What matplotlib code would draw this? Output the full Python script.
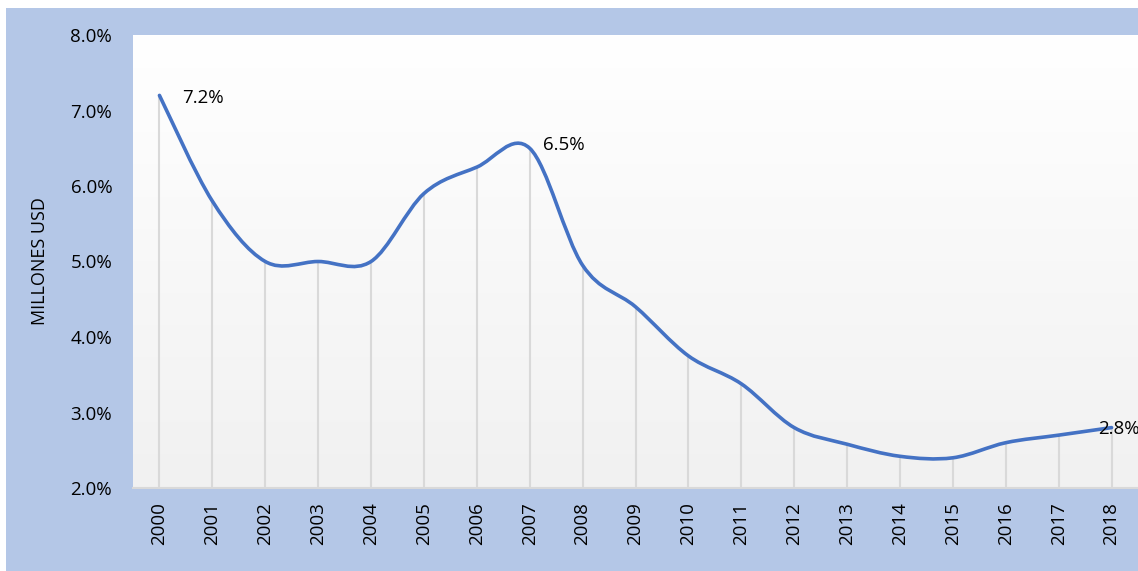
import numpy as np
import matplotlib
matplotlib.use("Agg")
from matplotlib import pyplot as plt
from matplotlib.path import Path
from matplotlib.patches import PathPatch, Rectangle
from matplotlib.ticker import FuncFormatter

years = ['2000', '2001', '2002', '2003', '2004', '2005', '2006', '2007', '2008', '2009',
         '2010', '2011', '2012', '2013', '2014', '2015', '2016', '2017', '2018']
values = [7.2, 5.8, 5.0, 5.0, 5.0, 5.9, 6.25, 6.5, 4.95, 4.4,
          3.75, 3.38, 2.8, 2.58, 2.42, 2.4, 2.6, 2.7, 2.8]
labels = {0: '7.2%', 7: '6.5%', 18: '2.8%'}

plt.rcParams['font.family'] = ['Open Sans', 'DejaVu Sans']

W, H = 1138, 571
fig = plt.figure(figsize=(W / 100, H / 100), dpi=100)
fig.patch.set_facecolor('white')
fig.patches.append(Rectangle((6 / W, 0), 1 - 6 / W, 1 - 8 / H, transform=fig.transFigure,
                             facecolor='#B4C7E7', edgecolor='none', zorder=-10))

ax = fig.add_axes([133 / W, 1 - 488 / H, (W - 133) / W, (488 - 35) / H])
ax.set_facecolor('none')
x = np.arange(len(years))

# background gradient, white at top to light gray at bottom
grad = np.linspace(1.0, 0.945, 256).reshape(-1, 1)
ax.imshow(np.dstack([grad, grad, grad]), extent=[0, 1, 0, 1], transform=ax.transAxes,
          aspect='auto', zorder=0)
ax.set_xlim(-0.5, len(years) - 0.5)
ax.set_ylim(2.0, 8.0)

# drop lines
ax.vlines(x, 2.0, values, color='#D9D9D9', lw=1.5, zorder=1)

# smoothed line (Excel-like bezier through the points)
pts = np.column_stack([x, values]).astype(float)
verts = [tuple(pts[0])]
codes = [Path.MOVETO]
n = len(pts)
for i in range(n - 1):
    p0 = pts[max(i - 1, 0)]
    p1 = pts[i]
    p2 = pts[i + 1]
    p3 = pts[min(i + 2, n - 1)]
    c1 = p1 + (p2 - p0) / 6.0
    c2 = p2 - (p3 - p1) / 6.0
    verts += [tuple(c1), tuple(c2), tuple(p2)]
    codes += [Path.CURVE4] * 3
ax.add_patch(PathPatch(Path(verts, codes), facecolor='none', edgecolor='#4472C4',
                       lw=2.6, capstyle='round', zorder=3))

offsets = {0: (16.5, -2), 7: (9.5, 2), 18: (-10, -1)}
for i, txt in labels.items():
    ax.annotate(txt, (x[i], values[i]), xytext=offsets[i], textcoords='offset points',
                fontsize=13.5, ha='left', va='center', color='#000000', zorder=4,
                annotation_clip=False)

ax.set_xticks(x)
ax.set_xticklabels(years, rotation=90, fontsize=13.5)
ax.set_yticks(np.arange(2, 8.01, 1))
ax.yaxis.set_major_formatter(FuncFormatter(lambda v, p: '%.1f%%' % v))
ax.tick_params(axis='y', length=0, pad=15, labelsize=13.5)
ax.tick_params(axis='x', length=0, pad=10)
for s in ['top', 'right', 'left']:
    ax.spines[s].set_visible(False)
ax.spines['bottom'].set_color('#D9D9D9')
ax.spines['bottom'].set_linewidth(1.5)
ax.set_ylabel('MILLONES USD', fontsize=13)
ax.yaxis.set_label_coords(-(133 - 49) / (W - 133), 0.5)

fig.savefig('out.png', dpi=100)
